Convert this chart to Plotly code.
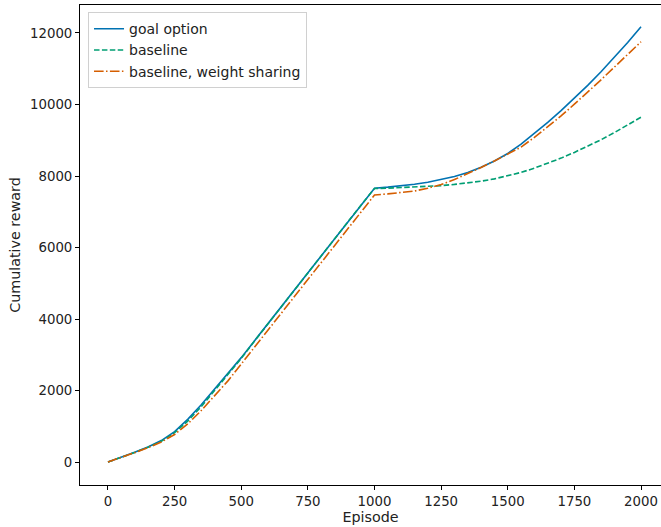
import plotly.graph_objects as go

episodes = list(range(0, 2001, 50))

goal_option = [0, 130, 270, 420, 600, 850, 1200, 1600, 2030, 2470, 2920,
               3395, 3870, 4345, 4820, 5295, 5770, 6245, 6720, 7195, 7660,
               7690, 7725, 7770, 7825, 7895, 7985, 8100, 8245, 8420, 8630,
               8890, 9185, 9500, 9830, 10175, 10535, 10915, 11315, 11735, 12175]

baseline = [0, 128, 265, 410, 580, 820, 1150, 1550, 1990, 2440, 2900,
            3385, 3865, 4340, 4815, 5290, 5765, 6240, 6715, 7190, 7650,
            7660, 7675, 7690, 7710, 7730, 7765, 7805, 7855, 7920, 8000,
            8100, 8220, 8355, 8500, 8660, 8830, 9015, 9215, 9425, 9645]

weight_sharing = [0, 125, 260, 400, 560, 770, 1070, 1440, 1840, 2270, 2740,
                  3215, 3690, 4165, 4640, 5115, 5590, 6065, 6540, 7015, 7470,
                  7500, 7530, 7580, 7660, 7760, 7900, 8060, 8240, 8420, 8610,
                  8810, 9080, 9370, 9680, 10010, 10345, 10690, 11045, 11400, 11755]

x_ticks = [0, 250, 500, 750, 1000, 1250, 1500, 1750, 2000]
y_ticks = [0, 2000, 4000, 6000, 8000, 10000, 12000]

FONT = "DejaVu Sans"

fig = go.Figure()
fig.add_trace(go.Scatter(x=episodes, y=goal_option, mode="lines", name="goal option",
                         line=dict(color="#0072B2", width=1.6)))
fig.add_trace(go.Scatter(x=episodes, y=baseline, mode="lines", name="baseline",
                         line=dict(color="#009E73", width=1.6, dash="5.5px,2.4px")))
fig.add_trace(go.Scatter(x=episodes, y=weight_sharing, mode="lines", name="baseline, weight sharing",
                         line=dict(color="#D55E00", width=1.6, dash="9.6px,2.4px,1.5px,2.4px")))

fig.update_layout(
    width=661, height=527,
    margin=dict(l=80, r=0, t=5, b=42),
    plot_bgcolor="white", paper_bgcolor="white",
    font=dict(family=FONT, size=13.3, color="#222222"),
    showlegend=True,
    legend=dict(x=0.0138, y=0.985, xanchor="left", yanchor="top",
                bgcolor="rgba(255,255,255,0.8)", bordercolor="#d0d0d0", borderwidth=1,
                font=dict(family=FONT, size=14, color="#222222"),
                tracegroupgap=0),
    xaxis=dict(range=[-105, 2075], tickvals=x_ticks, ticktext=[str(v) for v in x_ticks],
               showgrid=False, zeroline=False, showline=True, linecolor="black", linewidth=1,
               mirror=True, ticks="outside", ticklen=4, tickcolor="black",
               title=dict(text="Episode", font=dict(size=14.3), standoff=4)),
    yaxis=dict(range=[-643, 12783], tickvals=y_ticks, ticktext=[str(v) for v in y_ticks],
               showgrid=False, zeroline=False, showline=True, linecolor="black", linewidth=1,
               mirror=False, ticks="outside", ticklen=4, tickcolor="black",
               title=dict(text="Cumulative reward", font=dict(size=14.3), standoff=6)),
)

fig.write_html("out.html", config={"displayModeBar": False},
               post_script="document.body.style.margin='0px';document.body.style.overflow='hidden';")
